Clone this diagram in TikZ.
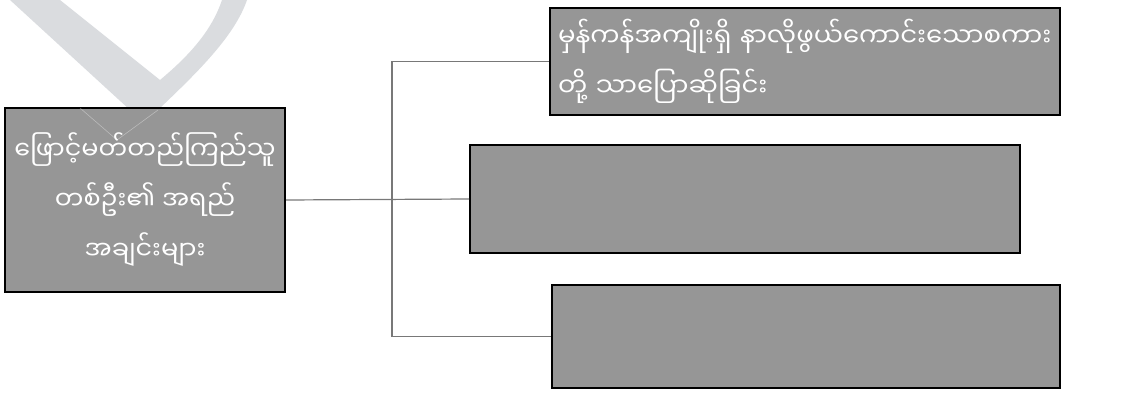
\documentclass[tikz,border=0pt]{standalone}
\usepackage{fontspec}
\newfontfamily\mmfont[Script=Myanmar]{Noto Sans Myanmar UI}
\usepackage{xcolor}
\definecolor{boxgray}{RGB}{150,150,150}
\definecolor{markgray}{RGB}{218,220,223}
\definecolor{linegray}{RGB}{120,120,120}

\tikzset{
  qbox/.style={draw=black, line width=2pt, fill=boxgray, text=white,
    inner sep=0pt, font=\mmfont\fontsize{25.5}{50}\selectfont},
  wide/.style={font=\mmfont\fontsize{26}{50}\selectfont},
  link/.style={draw=linegray, line width=1.2pt}
}

\begin{document}
\begin{tikzpicture}[x=1pt,y=-1pt]
            % Keep the page the size of the picture
            \useasboundingbox (0,0) rectangle (1125,393);
            % Pale mark behind the left box
            \fill[markgray] (10,0) -- (130,110) -- (160,108)
                .. controls (200,70) and (235,35) .. (247,0) -- (222,0)
                .. controls (212,30) and (190,55) .. (160,80) -- (60,0) -- cycle;
            % The boxes
            \node[qbox, minimum width=280pt, minimum height=184pt, align=center]
                (qual) at (145,200) {ဖြောင့်မတ်တည်ကြည်သူ\\တစ်ဦး၏ အရည်\\အချင်းများ};
            \node[qbox, wide, minimum width=510pt, minimum height=107pt,
                text width=494pt, align=left]
                (speech) at (805,61.5) {မှန်ကန်အကျိုးရှိ နာလိုဖွယ်ကောင်းသောစကား\\တို့ သာပြောဆိုခြင်း};
            \node[qbox, minimum width=550pt, minimum height=108pt] (mid) at (745,199) {};
            \node[qbox, minimum width=508pt, minimum height=103pt] (low) at (806,336.5) {};
            % Branch point of the connectors
            \coordinate (split) at (392,199);
            \draw[link] (qual.east) -- (mid.west);
            \draw[link] (speech.west) -| (split) |- (low.west);
            % Faint trace of the mark over the box
            \draw[white, opacity=0.35, line width=0.6pt] (80,108) -- (117,140) -- (158,110);
        \end{tikzpicture}
\end{document}
